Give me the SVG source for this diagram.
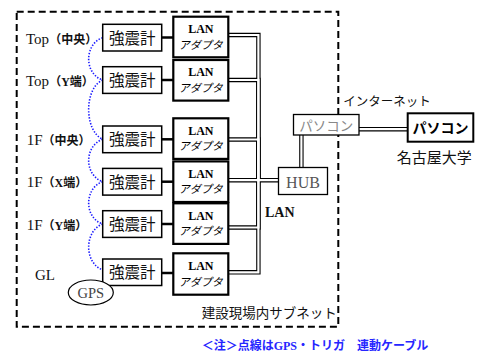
<svg xmlns="http://www.w3.org/2000/svg" width="490" height="354" viewBox="0 0 490 354">
<style>
.serif{font-family:"Liberation Serif","Times New Roman","Noto Sans CJK JP",serif}
.cjk{font-family:"Noto Sans CJK JP","Liberation Sans",sans-serif}
.sensor rect{fill:#fff;stroke:#000;stroke-width:1.5}
.adapter rect{fill:#fff;stroke:#000;stroke-width:2.2}
.busb{fill:none;stroke:#000;stroke-width:4.4}
.busw{fill:none;stroke:#fff;stroke-width:2.2}
.link{stroke:#000;stroke-width:2.5}
.gps{fill:none;stroke:#1a1aff;stroke-width:1.6;stroke-dasharray:1.4 1.6}
.lbl{font-size:15px;fill:#111}
.par{font-size:12px;font-weight:bold}
.st{font-size:15.5px;fill:#111}
</style>
<rect width="490" height="354" fill="#fff"/>
<rect x="16.7" y="11.7" width="321.6" height="315" fill="none" stroke="#000" stroke-width="2" stroke-dasharray="7 4"/>

<g id="connectors">
<g class="busb">
<path d="M228 35H258.4V180.2"/>
<path d="M228 80H258.4V180.2"/>
<path d="M228 139.5H258.4V180.2"/>
<path d="M228 180.2H278"/>
<path d="M228 227.5H258.4V180.2"/>
<path d="M228 272.3H258.4V180.2"/>
<path d="M301.4 135V167"/>
<path d="M359 129.2H408"/>
</g>
<g class="busw">
<path d="M228 35H258.4V180.2"/>
<path d="M228 80H258.4V180.2"/>
<path d="M228 139.5H258.4V180.2"/>
<path d="M228 180.2H278"/>
<path d="M228 227.5H258.4V180.2"/>
<path d="M228 272.3H258.4V180.2"/>
<path d="M301.4 134V168"/>
<path d="M358 129.2H409"/>
</g>
<g>
<line class="link" x1="161.7" y1="37.5" x2="173.3" y2="37.5"/>
<line class="link" x1="161.7" y1="80" x2="173.3" y2="80"/>
<line class="link" x1="161.7" y1="139.3" x2="173.3" y2="139.3"/>
<line class="link" x1="161.7" y1="181.7" x2="173.3" y2="181.7"/>
<line class="link" x1="161.7" y1="224" x2="173.3" y2="224"/>
<line class="link" x1="161.7" y1="273" x2="173.3" y2="273"/>
</g>
<g class="gps">
<path d="M102.7 37.7C84 44 84 74 102.7 80"/>
<path d="M102.7 80C84 88 84 131 102.7 139.3"/>
<path d="M102.7 139.3C84 146 84 175 102.7 181.7"/>
<path d="M102.7 181.7C84 188 84 218 102.7 224"/>
<path d="M102.7 224C84 231 84 263 102.7 270"/>
</g>
</g>

<g id="labels" class="serif">
<text x="26" y="43.5" class="lbl">Top<tspan class="par cjk">（中央）</tspan></text>
<text x="26" y="86" class="lbl">Top<tspan class="par cjk">（<tspan class="serif">Y</tspan>端）</tspan></text>
<text x="26.7" y="145" class="lbl">1F<tspan class="par cjk">（中央）</tspan></text>
<text x="26.7" y="187" class="lbl">1F<tspan class="par cjk">（<tspan class="serif">X</tspan>端）</tspan></text>
<text x="26.7" y="229.5" class="lbl">1F<tspan class="par cjk">（<tspan class="serif">Y</tspan>端）</tspan></text>
<text x="35" y="280" class="lbl">GL</text>
</g>

<g id="sensor1" class="sensor"><rect x="102.7" y="24.3" width="59" height="26.7"/><text x="132.2" y="43.5" text-anchor="middle" class="cjk st">強震計</text></g>
<g id="sensor2" class="sensor"><rect x="102.7" y="66.7" width="59" height="26.7"/><text x="132.2" y="86" text-anchor="middle" class="cjk st">強震計</text></g>
<g id="sensor3" class="sensor"><rect x="102.7" y="126" width="59" height="26.7"/><text x="132.2" y="145.3" text-anchor="middle" class="cjk st">強震計</text></g>
<g id="sensor4" class="sensor"><rect x="102.7" y="168.4" width="59" height="26.7"/><text x="132.2" y="187.7" text-anchor="middle" class="cjk st">強震計</text></g>
<g id="sensor5" class="sensor"><rect x="102.7" y="210.7" width="59" height="26.7"/><text x="132.2" y="230" text-anchor="middle" class="cjk st">強震計</text></g>
<g id="sensor6" class="sensor"><rect x="102.7" y="259" width="59" height="26.5"/><text x="132.2" y="278.2" text-anchor="middle" class="cjk st">強震計</text></g>

<g id="adapter1" class="adapter"><rect x="173.3" y="16.7" width="55" height="40.6"/><text x="200.8" y="33" text-anchor="middle" class="serif" font-size="12" font-weight="bold">LAN</text><text x="200.8" y="48.5" text-anchor="middle" class="cjk" font-size="11" font-style="italic">アダプタ</text></g>
<g id="adapter2" class="adapter"><rect x="173.3" y="60" width="55" height="40.6"/><text x="200.8" y="76.3" text-anchor="middle" class="serif" font-size="12" font-weight="bold">LAN</text><text x="200.8" y="91.8" text-anchor="middle" class="cjk" font-size="11" font-style="italic">アダプタ</text></g>
<g id="adapter3" class="adapter"><rect x="173.3" y="118.3" width="55" height="40.6"/><text x="200.8" y="134.6" text-anchor="middle" class="serif" font-size="12" font-weight="bold">LAN</text><text x="200.8" y="150.1" text-anchor="middle" class="cjk" font-size="11" font-style="italic">アダプタ</text></g>
<g id="adapter4" class="adapter"><rect x="173.3" y="161.4" width="55" height="40.6"/><text x="200.8" y="177.7" text-anchor="middle" class="serif" font-size="12" font-weight="bold">LAN</text><text x="200.8" y="193.2" text-anchor="middle" class="cjk" font-size="11" font-style="italic">アダプタ</text></g>
<g id="adapter5" class="adapter"><rect x="173.3" y="203.3" width="55" height="40.6"/><text x="200.8" y="219.6" text-anchor="middle" class="serif" font-size="12" font-weight="bold">LAN</text><text x="200.8" y="235.1" text-anchor="middle" class="cjk" font-size="11" font-style="italic">アダプタ</text></g>
<g id="adapter6" class="adapter"><rect x="173.3" y="253.3" width="55" height="41.4"/><text x="200.8" y="270" text-anchor="middle" class="serif" font-size="12" font-weight="bold">LAN</text><text x="200.8" y="285.5" text-anchor="middle" class="cjk" font-size="11" font-style="italic">アダプタ</text></g>

<g id="gps"><ellipse cx="90.8" cy="292.5" rx="22.5" ry="12.5" fill="#fff" stroke="#000" stroke-width="1.2"/><text x="90.8" y="298.3" text-anchor="middle" class="serif" font-size="14.5" fill="#444">GPS</text></g>

<g id="hub"><rect x="278.5" y="167.5" width="49" height="27" fill="#fff" stroke="#000" stroke-width="1.3"/><text x="303" y="188" text-anchor="middle" class="serif" font-size="16" fill="#555">HUB</text></g>
<text x="265" y="217.3" class="serif" font-size="14" font-weight="bold" fill="#111">LAN</text>

<g id="pc-local"><rect x="293.5" y="114.5" width="65.5" height="20.5" fill="#fff" stroke="#000" stroke-width="1.3"/><text x="326.2" y="131.2" text-anchor="middle" class="cjk" font-size="13.5" fill="#888">パソコン</text></g>
<g id="pc-remote"><rect x="407.7" y="113.3" width="65.6" height="28.4" fill="#fff" stroke="#000" stroke-width="2"/><text x="440.5" y="133" text-anchor="middle" class="cjk" font-size="14" font-weight="bold" fill="#000">パソコン</text></g>

<text x="343.3" y="106" class="cjk" font-size="12.5" fill="#111">インターネット</text>
<text x="396.7" y="162.5" class="cjk" font-size="15" fill="#111">名古屋大学</text>
<text x="201.7" y="318" class="cjk" font-size="13.5" fill="#111">建設現場内サブネット</text>
<text x="201.7" y="349.5" class="cjk" font-size="12" font-weight="bold" fill="#2626ff">＜注＞点線は<tspan class="serif">GPS</tspan>・トリガ　連動ケーブル</text>
</svg>
